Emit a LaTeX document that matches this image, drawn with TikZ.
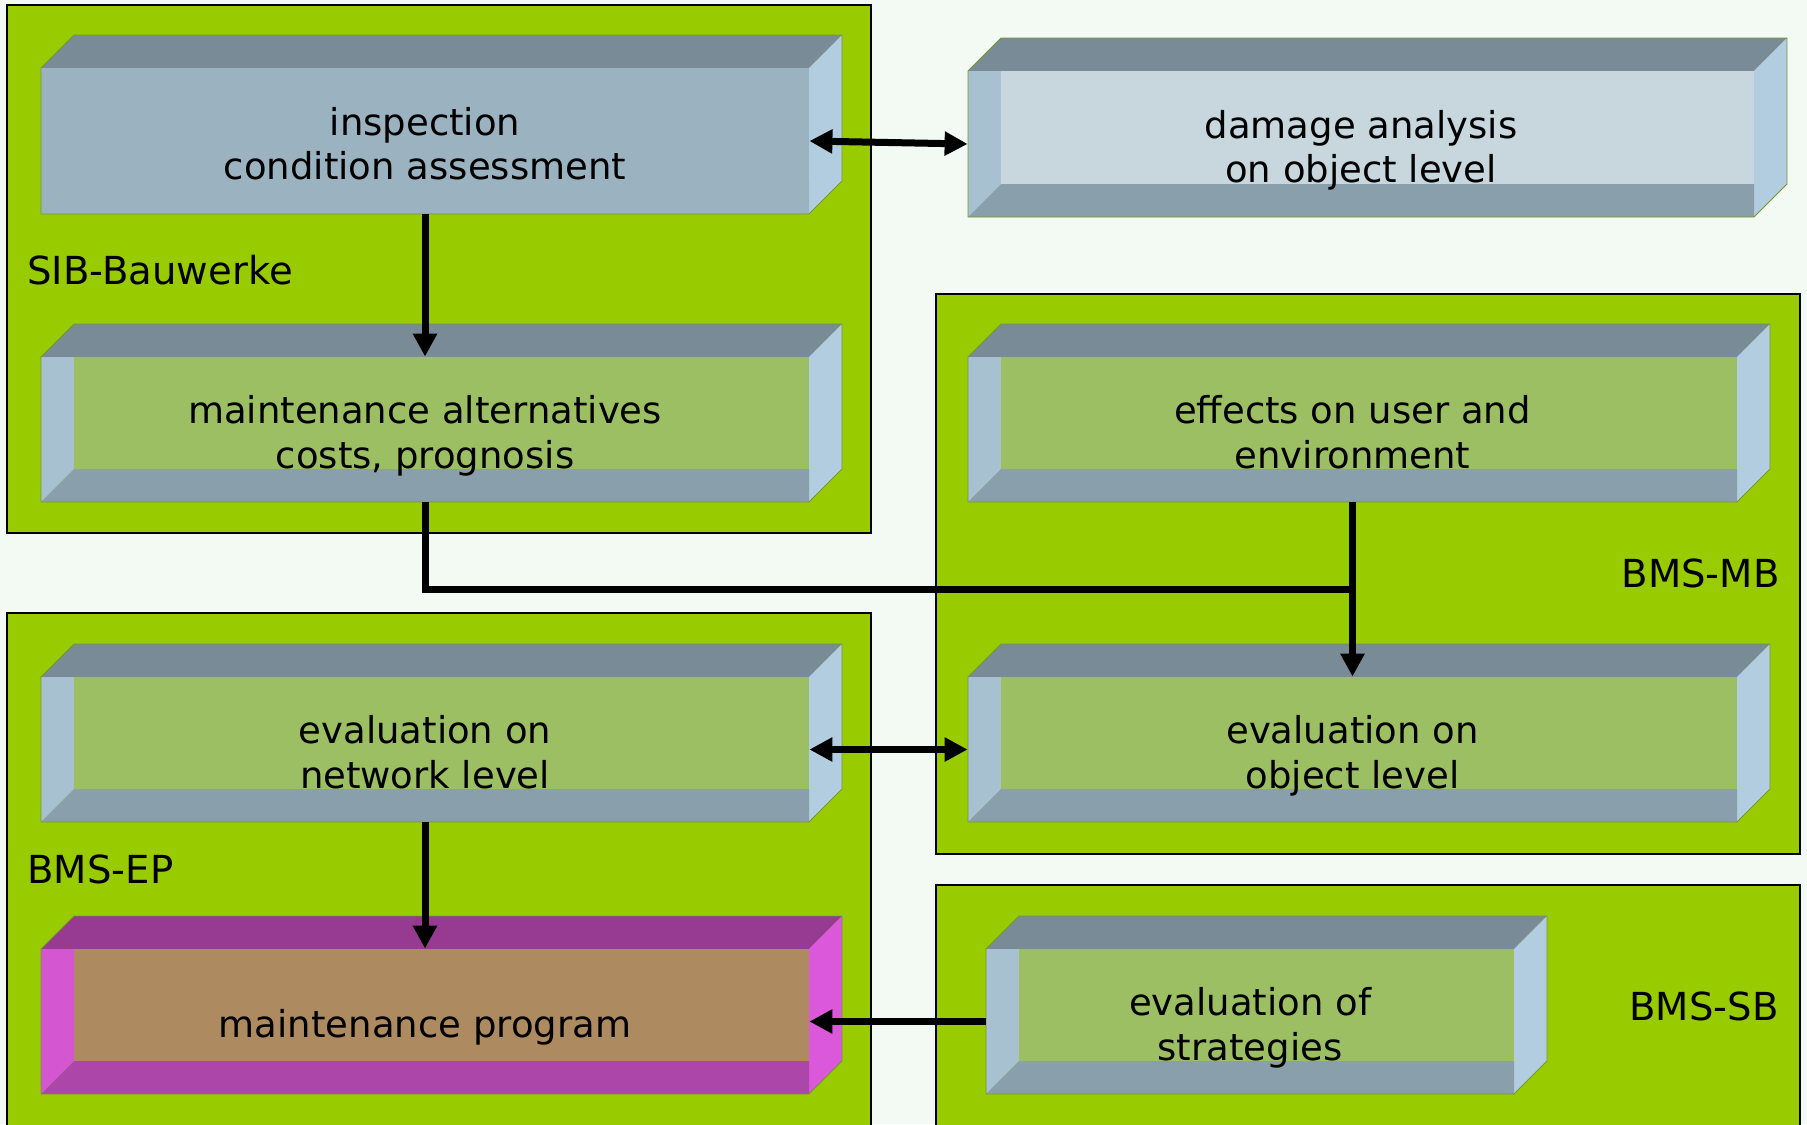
\documentclass[tikz,border=0pt]{standalone}
\usepackage{fontspec}
\setmainfont{DejaVu Sans}
\usetikzlibrary{arrows.meta}

\definecolor{paper}{HTML}{F3FAF3}
\definecolor{grpgreen}{HTML}{99CC00}
\definecolor{edgegreen}{HTML}{74982A}
% steel blue slab, green face
\definecolor{steeltop}{HTML}{798B97}
\definecolor{steelside}{HTML}{B3CDE0}
\definecolor{steelleft}{HTML}{A8C1D1}
\definecolor{steelbase}{HTML}{8A9FAC}
\definecolor{steelface}{HTML}{9BBF62}
% same slab, pale face
\colorlet{frosttop}{steeltop}
\colorlet{frostside}{steelside}
\colorlet{frostleft}{steelleft}
\colorlet{frostbase}{steelbase}
\definecolor{frostface}{HTML}{C7D7DD}
% plain slab, one colour in front
\colorlet{slatetop}{steeltop}
\colorlet{slateside}{steelside}
\definecolor{slateleft}{HTML}{9BB3C1}
\colorlet{slatebase}{slateleft}
\colorlet{slateface}{slateleft}
% purple slab
\definecolor{plumtop}{HTML}{963A92}
\definecolor{plumside}{HTML}{DB58DB}
\definecolor{plumleft}{HTML}{D456D1}
\definecolor{plumbase}{HTML}{AD46A9}
\definecolor{plumface}{HTML}{AD8A60}

\tikzset{
  group/.style={fill=grpgreen, draw=black, line width=1pt},
  grouplabel/.style={inner sep=0pt, font=\fontsize{19.3}{22.3}\selectfont},
  slabedge/.style={draw=edgegreen, line width=0.4pt},
  slabtext/.style={inner sep=0pt, align=center, yshift=-3.7pt, font=\fontsize{18.5}{22.3}\selectfont},
  link/.style={line width=3.5pt},
  tip/.style={-{Triangle[length=11.5pt,width=11.5pt]}},
  tips/.style={{Triangle[length=11.5pt,width=11.5pt]}-{Triangle[length=11.5pt,width=11.5pt]}}
}

% #1 colours, #2 name, #3,#4 front top left, #5,#6 front bottom right, #7 text
\newcommand{\slab}[7]{%
  \fill[#1top] (#3,#4) -- (#3+33,#4-33) -- (#5+33,#4-33) -- (#5,#4) -- cycle;
  \fill[#1side] (#5,#4) -- (#5+33,#4-33) -- (#5+33,#6-33) -- (#5,#6) -- cycle;
  \fill[#1left] (#3,#4) -- (#3+33,#4) -- (#3+33,#6-33) -- (#3,#6) -- cycle;
  \fill[#1base] (#3,#6) -- (#3+33,#6-33) -- (#5,#6-33) -- (#5,#6) -- cycle;
  \fill[#1face] (#3+33,#4) rectangle (#5,#6-33);
  \draw[slabedge] (#3,#4) -- (#3+33,#4-33) -- (#5+33,#4-33) -- (#5+33,#6-33) -- (#5,#6) -- (#3,#6) -- cycle;
  \node[minimum width={(#5-#3)*0.5pt}, minimum height={(#6-#4)*0.5pt}, inner sep=0pt] (#2)
    at ({(#3+#5)/2},{(#4+#6)/2}) {};
  \node[slabtext] at (#2.center) {\strut#7\strut};
}

\begin{document}
\begin{tikzpicture}[x=0.5pt, y=-0.5pt]
  \clip (0,0) rectangle (1807,1124);
  \fill[paper] (0,0) rectangle (1807,1124);

  % modules
  \draw[group] (7,5) rectangle (871,533);
  \draw[group] (936,294) rectangle (1800,854);
  \draw[group] (7,613) rectangle (871,1140);
  \draw[group] (936,885) rectangle (1800,1140);

  \node[grouplabel, anchor=base west] (sib) at (27,284) {SIB-Bauwerke};
  \node[grouplabel, anchor=base east] (mb) at (1780,587) {BMS-MB};
  \node[grouplabel, anchor=base west] (ep) at (27,883) {BMS-EP};
  \node[grouplabel, anchor=base east] (sb) at (1779,1020) {BMS-SB};

  % slabs
  \slab{slate}{inspect}{41}{68}{809}{214}{inspection\\condition assessment}
  \slab{frost}{damage}{968}{71}{1754}{217}{damage analysis\\on object level}
  \slab{steel}{alternatives}{41}{357}{809}{502}{maintenance alternatives\\costs, prognosis}
  \slab{steel}{effects}{968}{357}{1737}{502}{effects on user and\\environment}
  \slab{steel}{network}{41}{677}{809}{822}{evaluation on\\network level}
  \slab{steel}{object}{968}{677}{1737}{822}{evaluation on\\object level}
  \slab{plum}{program}{41}{949}{809}{1094}{maintenance program}
  \slab{steel}{strategies}{986}{949}{1514}{1094}{evaluation of\\strategies}

  % connectors
  \coordinate (join) at (effects.south |- 0,589);
  \draw[link, tips] (inspect.east) -- (damage.west);
  \draw[link, tip] (inspect.south) -- (alternatives.north);
  \draw[link] (alternatives.south) |- (join);
  \draw[link, tip] (effects.south) -- (object.north);
  \draw[link, tips] (network.east) -- (object.west);
  \draw[link, tip] (network.south) -- (program.north);
  \draw[link, tip] (strategies.west) -- (program.east);
\end{tikzpicture}
\end{document}
